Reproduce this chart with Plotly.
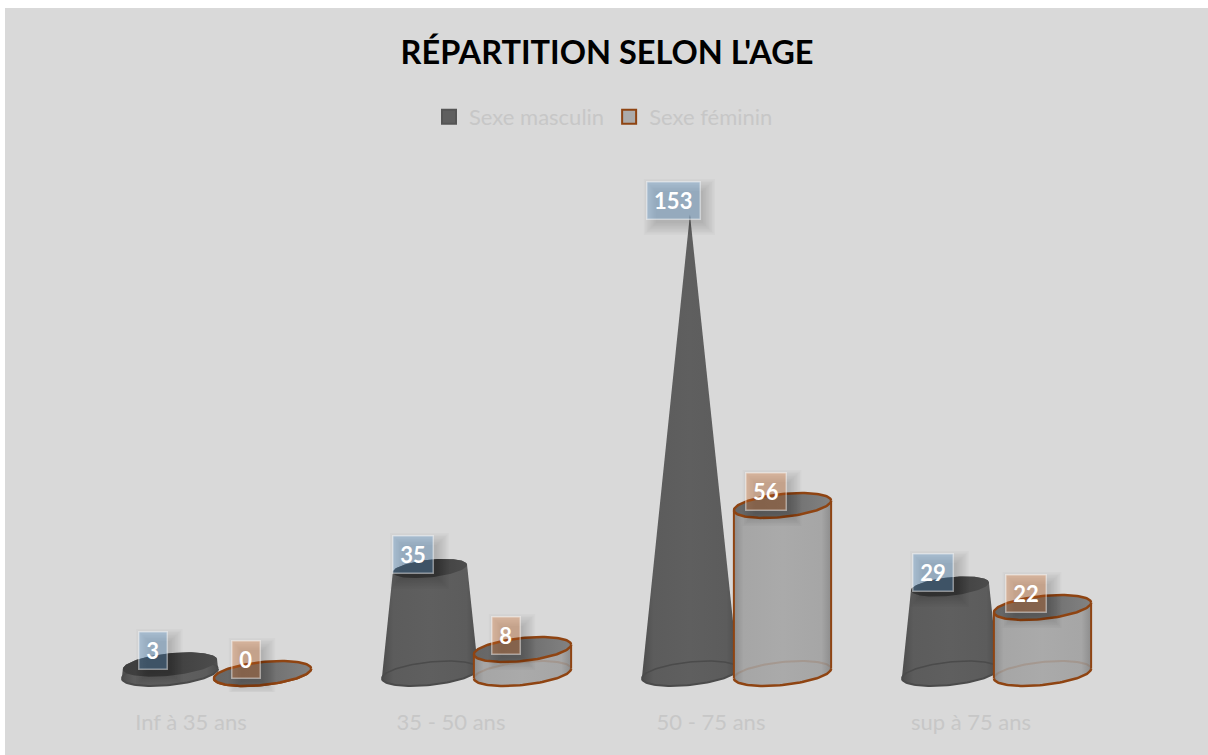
import numpy as np
import plotly.graph_objects as go

# ---- data ----
categories = ["Inf à 35 ans", "35 - 50 ans", "50 - 75 ans", "sup à 75 ans"]
male_values = [3, 35, 153, 29]
female_values = [0, 8, 56, 22]
male_name = "Sexe masculin"
female_name = "Sexe féminin"
title_text = "RÉPARTITION SELON L'AGE"

# ---- figure geometry ----
W, H = 1208, 755
M_L, M_R, M_T, M_B = 61, 107, 163, 63
PW, PH = W - M_L - M_R, H - M_T - M_B
X_RANGE = [-0.5, 3.5]
Y_RANGE = [-6.1667, 170.1667]
MALE_OFF, FEMALE_OFF = -0.081, 0.275
R_M, R_F = 0.185, 0.187
B_V, LIFT_V = 3.83, 1.6  # ellipse half height and tilt, in value units

BG = "#d9d9d9"
BROWN = "#8f4412"
TXT = "#c7c7c7"

t_all = np.linspace(0, 2 * np.pi, 121)
t_low = np.linspace(np.pi, 2 * np.pi, 61)   # front arc, left to right
t_up = np.linspace(0, np.pi, 61)            # back arc, right to left


def ell(cx, cy, r, R, t):
    k = r / R
    x = cx + r * np.cos(t)
    y = cy + k * (LIFT_V * np.cos(t) + B_V * np.sin(t))
    return x, y


def poly(x, y, grad=None, color=None, line=None, width=0):
    d = dict(x=list(x), y=list(y), mode="lines", showlegend=False, hoverinfo="skip")
    if grad or color:
        d["fill"] = "toself"
        if grad:
            d["fillgradient"] = dict(type="horizontal", colorscale=grad)
        else:
            d["fillcolor"] = color
    d["line"] = dict(color=line or "rgba(0,0,0,0)", width=width)
    return go.Scatter(**d)


fig = go.Figure()

for i in range(len(categories)):
    # cone of the first series, narrowing to a point at the largest value
    v = male_values[i]
    cx = i + MALE_OFF
    top_max = max(male_values)
    r_top = R_M * (1 - v / top_max)
    bx, by = ell(cx, 0, R_M, R_M, t_all)
    fig.add_trace(poly(bx, by, color="#5a5a5a"))
    xl, yl = ell(cx, 0, R_M, R_M, t_low)
    xu, yu = ell(cx, v, r_top, R_M, t_up)
    fig.add_trace(poly(np.r_[xl, xu], np.r_[yl, yu],
                       grad=[[0, "#4c4c4c"], [0.12, "#5c5c5c"], [0.5, "#5f5f5f"],
                             [0.88, "#5c5c5c"], [1, "#4c4c4c"]]))
    xb, yb = ell(cx, 0, R_M, R_M, t_up)
    fig.add_trace(poly(xb, yb, line="#4b4b4b", width=1.5))
    fig.add_trace(poly(xl, yl, line="#4b4b4b", width=2))
    if r_top > 0:
        tx, ty = ell(cx, v, r_top, R_M, t_all)
        fig.add_trace(poly(tx, ty, grad=[[0, "#3e3e3e"], [0.6, "#424242"], [1, "#4c4c4c"]]))

    # cylinder of the second series
    v = female_values[i]
    cx = i + FEMALE_OFF
    bx, by = ell(cx, 0, R_F, R_F, t_all)
    fig.add_trace(poly(bx, by, color="#a8a8a8"))
    xl, yl = ell(cx, 0, R_F, R_F, t_low)
    xu, yu = ell(cx, v, R_F, R_F, t_up)
    fig.add_trace(poly(np.r_[xl, xu], np.r_[yl, yu],
                       grad=[[0, "#8d8d8d"], [0.1, "#a6a6a6"], [0.5, "#aaaaaa"],
                             [0.9, "#a6a6a6"], [1, "#8d8d8d"]]))
    xb, yb = ell(cx, 0, R_F, R_F, t_up)
    fig.add_trace(poly(xb, yb, line="rgba(143,68,18,0.16)", width=2))
    fig.add_trace(poly(xl, yl, line=BROWN, width=2.5))
    fig.add_trace(poly([cx - R_F, cx - R_F], [0 - LIFT_V, v - LIFT_V], line=BROWN, width=2))
    fig.add_trace(poly([cx + R_F, cx + R_F], [0 + LIFT_V, v + LIFT_V], line=BROWN, width=2))
    tx, ty = ell(cx, v, R_F, R_F, t_all)
    fig.add_trace(poly(tx, ty, grad=[[0, "#666666"], [0.55, "#6f6f6f"], [1, "#828282"]],
                       line=BROWN, width=2.5))

# legend keys
fig.add_trace(go.Scatter(x=[None], y=[None], mode="markers", name=male_name,
                         marker=dict(symbol="square", size=14, color="#5f5f5f",
                                     line=dict(color="#555555", width=2))))
fig.add_trace(go.Scatter(x=[None], y=[None], mode="markers", name=female_name,
                         marker=dict(symbol="square", size=14, color="#ababab",
                                     line=dict(color=BROWN, width=2))))

# chart background
shapes = [dict(type="rect", xref="paper", yref="paper", layer="below",
               x0=(5 - M_L) / PW, x1=(W - M_L) / PW,
               y0=(M_B - 0) / -PH, y1=(H - 8 - M_B) / PH,
               fillcolor=BG, line=dict(width=0))]
annotations = []
LBL_DX, LBL_DY = -16.5, 14.5


def add_label(cx, v, fill, border):
    txt = str(v)
    w = 16 + 12.5 * len(txt)
    h = 38
    sx, sy = LBL_DX + 6, LBL_DY - 7
    for k in range(9):
        e = k * 1.5 - 3
        shapes.append(dict(type="rect", xref="x", yref="y", xsizemode="pixel", ysizemode="pixel",
                           xanchor=cx, yanchor=v, layer="above",
                           x0=sx - w / 2 - e, x1=sx + w / 2 + e,
                           y0=sy - h / 2 - e, y1=sy + h / 2 + e,
                           fillcolor="rgba(0,0,0,0.018)", line=dict(width=0)))
    annotations.append(dict(x=cx, y=v, xref="x", yref="y", text=f"<b>{txt}</b>", showarrow=False,
                            xshift=LBL_DX, yshift=LBL_DY, width=w - 4, height=h - 4, borderpad=1,
                            bgcolor=fill, bordercolor=border, borderwidth=1.5,
                            align="center", valign="middle",
                            font=dict(family="Lato", size=22, color="white")))


for i in range(len(categories)):
    add_label(i + MALE_OFF, male_values[i], "rgba(91,155,213,0.33)", "rgba(255,255,255,0.45)")
    add_label(i + FEMALE_OFF, female_values[i], "rgba(237,125,49,0.3)", "rgba(255,255,255,0.45)")

fig.update_layout(
    width=W, height=H, paper_bgcolor="white", plot_bgcolor="rgba(0,0,0,0)",
    margin=dict(l=M_L, r=M_R, t=M_T, b=M_B, autoexpand=False),
    title=dict(text=f"<b>{title_text}</b>", x=607 / W, xanchor="center", xref="container",
               y=1 - 53 / H, yanchor="middle", yref="container",
               font=dict(family="Lato", size=32.5, color="black")),
    legend=dict(orientation="h", x=(429 - M_L) / PW, xanchor="left",
                y=(H - M_B - 117) / PH, yanchor="middle", bgcolor="rgba(0,0,0,0)",
                font=dict(family="Lato", size=22, color=TXT), itemclick=False),
    xaxis=dict(range=X_RANGE, tickmode="array", tickvals=list(range(len(categories))), ticktext=categories,
               showgrid=False, zeroline=False, showline=False, ticks="", ticklabelstandoff=15,
               tickfont=dict(family="Lato", size=22, color=TXT)),
    yaxis=dict(range=Y_RANGE, visible=False),
    shapes=shapes, annotations=annotations, hovermode=False,
)

fig.write_html("out.html", config=dict(displayModeBar=False),
               post_script="document.body.style.margin='0';document.body.style.overflow='hidden';")
